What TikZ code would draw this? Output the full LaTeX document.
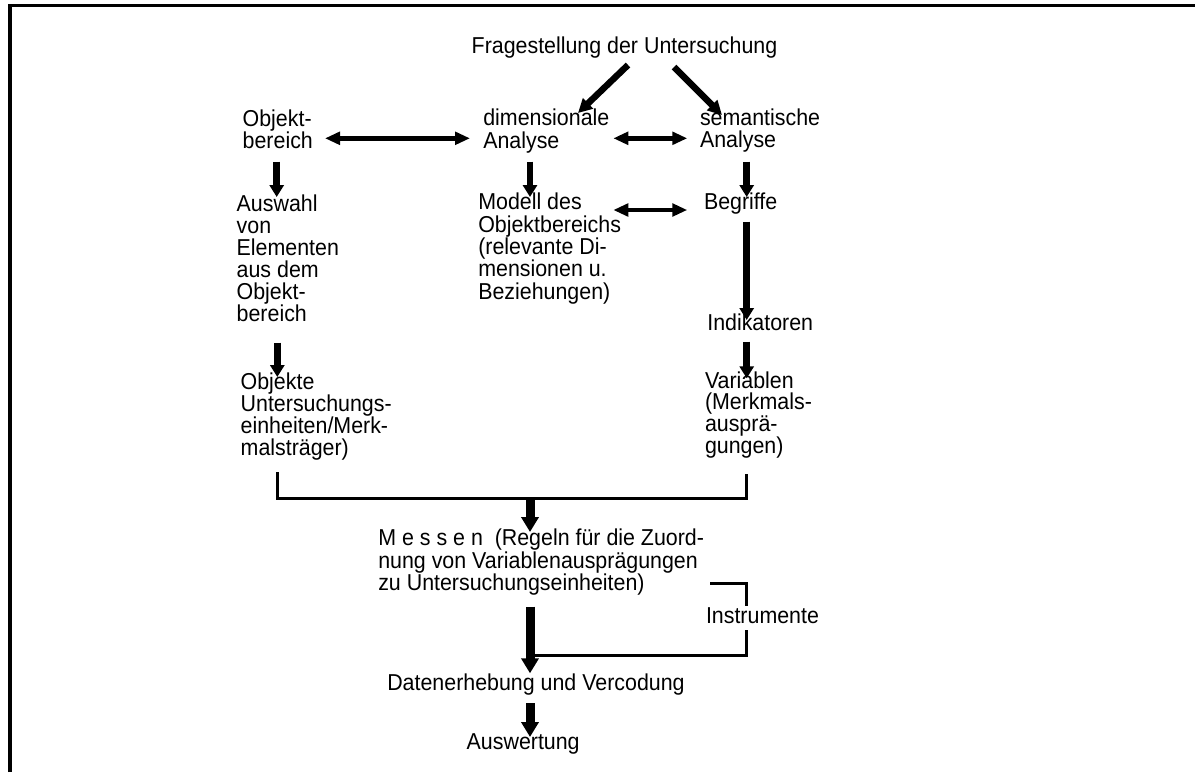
\documentclass[tikz,border=0pt]{standalone}
\usepackage{fontspec}
\setmainfont{Liberation Sans}[FakeStretch=0.93]
\usetikzlibrary{arrows.meta}
\begin{document}
\begin{tikzpicture}[x=1pt,y=1pt,
  lbl/.style={inner sep=0pt,outer sep=0pt,align=left,font=\fontsize{23}{22.3}\selectfont},
  varr/.style={line width=6.5pt,-{Triangle[width=14pt,length=12pt]}},
  thickarr/.style={line width=9pt,-{Triangle[width=17pt,length=15pt]}},
  harr/.style={line width=4.8pt,{Triangle[width=12.5pt,length=15pt]}-{Triangle[width=12.5pt,length=15pt]}},
  darr/.style={line width=6.5pt,-{Triangle[width=14pt,length=14pt]}},
  brk/.style={line width=3pt,line cap=rect},
  frame/.style={line width=3.3pt}
]
\useasboundingbox (0,0) rectangle (1195,-772);
\fill[white] (0,0) rectangle (1195,-772);
% frame
\draw[frame] (10,-772) -- (10,-5.7) -- (1195,-5.7);

% nodes
\node[lbl,anchor=base west] (frage) at (471.7,-53.5) {Fragestellung der Untersuchung};
\node[lbl,anchor=north west] (objb) at (242.7,-109.4) {Objekt-\\bereich};
\node[lbl,anchor=north west] (dim) at (483.3,-109.2) {dimensionale\\Analyse};
\node[lbl,anchor=north west] (sem) at (700,-108.6) {semantische\\Analyse};
\node[lbl,anchor=north west,font=\fontsize{23}{22}\selectfont] (ausw) at (236.7,-194.9) {Auswahl\\von\\Elementen\\aus dem\\Objekt-\\bereich};
\node[lbl,anchor=north west] (modell) at (478.3,-193.2) {Modell des\\Objektbereichs\\(relevante Di-\\mensionen u.\\Beziehungen)};
\node[lbl,anchor=base west] (begr) at (704,-209.5) {Begriffe};
\node[lbl,anchor=base west] (indik) at (707.3,-330) {Indikatoren};
\node[lbl,anchor=north west,font=\fontsize{23}{21.8}\selectfont] (objekte) at (240.7,-373.2) {Objekte\\Untersuchungs-\\einheiten/Merk-\\malsträger)};
\node[lbl,anchor=north west,font=\fontsize{23}{21.8}\selectfont] (variablen) at (705,-371.4) {Variablen\\(Merkmals-\\ausprä-\\gungen)};
\node[lbl,anchor=north west] (messen) at (378.3,-529.2) {M e s s e n\ \ (Regeln für die Zuord-\\nung von Variablenausprägungen\\zu Untersuchungseinheiten)};
\node[lbl,anchor=base west] (instr) at (706,-623.3) {Instrumente};
\node[lbl,anchor=base west] (daten) at (387.3,-690) {Datenerhebung und Vercodung};
\node[lbl,anchor=base west] (auswert) at (466.7,-749.3) {Auswertung};

% connector end points
\coordinate (frage-l) at (628,-65);
\coordinate (dim-t) at (578,-113);
\coordinate (frage-r) at (674,-67);
\coordinate (sem-t) at (722,-115);
\coordinate (objb-e) at (325,-138.3);
\coordinate (dim-w) at (470,-138.3);
\coordinate (dim-e) at (613.3,-138.3);
\coordinate (sem-w) at (687.3,-138.3);
\coordinate (modell-e) at (613.3,-210);
\coordinate (begr-w) at (687.3,-210);
\coordinate (objb-s) at (276.7,-161.7);
\coordinate (ausw-n) at (276.7,-197);
\coordinate (dim-s) at (530,-161.7);
\coordinate (modell-n) at (530,-197);
\coordinate (sem-s) at (746.7,-161.7);
\coordinate (begr-n) at (746.7,-197);
\coordinate (begr-s) at (746.7,-221.7);
\coordinate (indik-n) at (746.7,-320);
\coordinate (indik-s) at (746.7,-341.7);
\coordinate (var-n) at (746.7,-378.3);
\coordinate (ausw-s) at (277.3,-342.7);
\coordinate (objekte-n) at (277.3,-377);
\coordinate (objekte-s) at (277.3,-473);
\coordinate (var-s) at (746.7,-475);
\coordinate (join) at (530,-498.3);
\coordinate (messen-n) at (530,-532);
\coordinate (messen-s) at (530,-606.7);
\coordinate (daten-n) at (530,-673.3);
\coordinate (daten-s) at (530,-703.3);
\coordinate (auswert-n) at (530,-737);
\coordinate (instr-a) at (711.7,-583.3);
\coordinate (instr-n) at (746.7,-604);
\coordinate (instr-s) at (746.7,-631.7);
\coordinate (instr-b) at (531.7,-655);

% connectors
\draw[darr] (frage-l) -- (dim-t);
\draw[darr] (frage-r) -- (sem-t);
\draw[harr] (objb-e) -- (dim-w);
\draw[harr] (dim-e) -- (sem-w);
\draw[harr] (modell-e) -- (begr-w);
\draw[varr] (objb-s) -- (ausw-n);
\draw[varr] (dim-s) -- (modell-n);
\draw[varr] (sem-s) -- (begr-n);
\draw[varr] (begr-s) -- (indik-n);
\draw[varr] (indik-s) -- (var-n);
\draw[varr] (ausw-s) -- (objekte-n);
\draw[brk] (objekte-s) |- (join) -| (var-s);
\draw[thickarr] (join) -- (messen-n);
\draw[brk] (instr-a) -| (instr-n);
\draw[brk] (instr-s) |- (instr-b);
\draw[thickarr] (messen-s) -- (daten-n);
\draw[thickarr] (daten-s) -- (auswert-n);
\end{tikzpicture}
\end{document}
